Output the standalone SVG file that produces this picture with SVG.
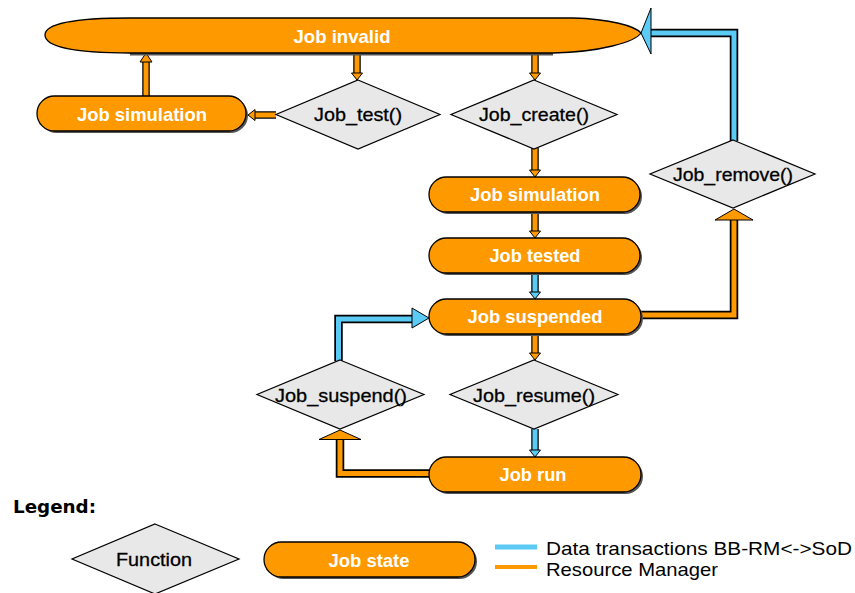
<svg xmlns="http://www.w3.org/2000/svg" width="855" height="593" viewBox="0 0 855 593">
<style>
.st{fill:#FF9900;stroke:#000;stroke-width:1.3}
.sh{fill:#555}
.fn{fill:#E8E8E8;stroke:#000;stroke-width:1.2}
.tw{fill:#fff;font-family:"Liberation Sans",Arial,sans-serif;font-size:19px;font-weight:bold;text-anchor:middle}
.tb{fill:#000;font-family:"Liberation Sans",Arial,sans-serif;font-size:19px;text-anchor:middle;stroke:#000;stroke-width:0.3}
.lo{fill:none;stroke:#000;stroke-width:7.5;stroke-linejoin:miter}
.lo2{fill:none;stroke:#000;stroke-width:8.5;stroke-linejoin:miter}
.io{fill:none;stroke:#FF9900;stroke-width:5;stroke-linejoin:miter}
.ib{fill:none;stroke:#5BCBF5;stroke-width:5;stroke-linejoin:miter}
.ho{fill:#FF9900;stroke:#000;stroke-width:1}
.hb{fill:#5BCBF5;stroke:#000;stroke-width:1}
.lg{fill:#000;font-family:"Liberation Sans",Arial,sans-serif;font-size:19px}
</style>
<rect width="855" height="593" fill="#fff"/>
<g id="connectors">
  <path class="lo" d="M146,96 V62"/><path class="io" d="M146,96 V62"/>
  <polygon class="ho" points="140,62 152,62 146,53"/>
  <path class="lo" d="M357,54 V73"/><path class="io" d="M357,54 V73"/>
  <polygon class="ho" points="351.5,73 362.5,73 357,80"/>
  <path class="lo" d="M535,54 V73"/><path class="io" d="M535,54 V73"/>
  <polygon class="ho" points="529.5,73 540.5,73 535,80"/>
  <path class="lo" d="M276,115 H255"/><path class="io" d="M276,115 H255"/>
  <polygon class="ho" points="255,109.5 255,120.5 248,115"/>
  <path class="lo" d="M535,148 V170"/><path class="io" d="M535,148 V170"/>
  <polygon class="ho" points="529.5,170 540.5,170 535,177"/>
  <path class="lo" d="M535,212 V231"/><path class="io" d="M535,212 V231"/>
  <polygon class="ho" points="529.5,231 540.5,231 535,238"/>
  <path class="lo" d="M535,273 V292"/><path class="ib" d="M535,273 V292"/>
  <polygon class="hb" points="529.5,292 540.5,292 535,299"/>
  <path class="lo" d="M535,334 V353"/><path class="io" d="M535,334 V353"/>
  <polygon class="ho" points="529.5,353 540.5,353 535,360"/>
  <path class="lo" d="M535,429 V450"/><path class="ib" d="M535,429 V450"/>
  <polygon class="hb" points="529.5,450 540.5,450 535,457"/>
  <path class="lo2" d="M430,473.5 H340 V439"/><path class="io" d="M430,473.5 H340 V439"/>
  <polygon class="ho" points="319,439.5 361,439.5 340,430"/>
  <path class="lo2" d="M338.5,361 V319 H413"/><path class="ib" d="M338.5,361 V319 H413"/>
  <polygon class="hb" points="412,308 412,328 429,318"/>
  <path class="lo2" d="M641,315 H734 V220"/><path class="io" d="M641,315 H734 V220"/>
  <polygon class="ho" points="715,220 753,220 734,209"/>
  <path class="lo2" d="M734,141 V33 H651"/><path class="ib" d="M734,141 V33 H651"/>
  <polygon class="hb" points="651,8 651,54 641,33"/>
</g>
<g id="job_invalid">
  <path class="sh" d="M130,53 L553,53 L553,55.5 L130,55.5 Z"/>
  <path class="st" d="M45,35 C45,22 80,18 130,18 L573,18 C610,19 635,26 641,33 C635,42 600,52 553,53 L130,53 C80,53 45,48 45,35 Z"/>
  <text class="tw" x="342" y="43" textLength="97" lengthAdjust="spacingAndGlyphs">Job invalid</text>
</g>
<g id="job_simulation_left">
  <rect class="sh" x="39" y="98" width="209" height="35" rx="17.5"/>
  <rect class="st" x="37" y="96" width="209" height="35" rx="17.5"/>
  <text class="tw" x="142" y="120.5" textLength="130" lengthAdjust="spacingAndGlyphs">Job simulation</text>
</g>
<g id="job_test">
  <polygon class="fn" points="358,80 440,114.5 358,149 276,114.5"/>
  <text class="tb" x="358" y="121" textLength="88" lengthAdjust="spacingAndGlyphs">Job_test()</text>
</g>
<g id="job_create">
  <polygon class="fn" points="534,80 617,114.5 534,149 451,114.5"/>
  <text class="tb" x="534" y="121" textLength="110" lengthAdjust="spacingAndGlyphs">Job_create()</text>
</g>
<g id="job_remove">
  <polygon class="fn" points="733,140 815,174 733,208 650,174"/>
  <text class="tb" x="733" y="180.5" textLength="120" lengthAdjust="spacingAndGlyphs">Job_remove()</text>
</g>
<g id="job_simulation">
  <rect class="sh" x="431" y="179" width="211" height="35" rx="17.5"/>
  <rect class="st" x="429" y="177" width="211" height="35" rx="17.5"/>
  <text class="tw" x="535" y="201" textLength="130" lengthAdjust="spacingAndGlyphs">Job simulation</text>
</g>
<g id="job_tested">
  <rect class="sh" x="431" y="240" width="211" height="35" rx="17.5"/>
  <rect class="st" x="429" y="238" width="211" height="35" rx="17.5"/>
  <text class="tw" x="535" y="262" textLength="91" lengthAdjust="spacingAndGlyphs">Job tested</text>
</g>
<g id="job_suspended">
  <rect class="sh" x="431" y="301" width="212" height="35" rx="17.5"/>
  <rect class="st" x="429" y="299" width="212" height="35" rx="17.5"/>
  <text class="tw" x="535" y="323" textLength="135" lengthAdjust="spacingAndGlyphs">Job suspended</text>
</g>
<g id="job_suspend">
  <polygon class="fn" points="340,360 424,394.5 340,429 257,394.5"/>
  <text class="tb" x="341" y="401.5" textLength="132" lengthAdjust="spacingAndGlyphs">Job_suspend()</text>
</g>
<g id="job_resume">
  <polygon class="fn" points="534,360 618,394.5 534,429 450,394.5"/>
  <text class="tb" x="534" y="401.5" textLength="122" lengthAdjust="spacingAndGlyphs">Job_resume()</text>
</g>
<g id="job_run">
  <rect class="sh" x="431" y="459" width="212" height="35" rx="17.5"/>
  <rect class="st" x="429" y="457" width="212" height="35" rx="17.5"/>
  <text class="tw" x="533" y="481" textLength="67" lengthAdjust="spacingAndGlyphs">Job run</text>
</g>
<g id="legend">
  <text x="13" y="513" font-family="'DejaVu Sans',Verdana,sans-serif" font-size="18" font-weight="bold" textLength="83" lengthAdjust="spacingAndGlyphs">Legend:</text>
  <g id="legend_function">
    <polygon class="fn" points="155,524 239,559 155,594 72,559"/>
    <text class="tb" x="154" y="565.5" textLength="76" lengthAdjust="spacingAndGlyphs">Function</text>
  </g>
  <g id="legend_state">
    <rect class="sh" x="266" y="544" width="211" height="35" rx="17.5"/>
    <rect class="st" x="264" y="542" width="211" height="35" rx="17.5"/>
    <text class="tw" x="369" y="566.5" textLength="81" lengthAdjust="spacingAndGlyphs">Job state</text>
  </g>
  <line x1="495" y1="547" x2="537" y2="547" stroke="#5BCBF5" stroke-width="5"/>
  <line x1="495" y1="567" x2="537" y2="567" stroke="#FF9900" stroke-width="4"/>
  <text class="lg" x="546" y="554.5" textLength="306" lengthAdjust="spacingAndGlyphs">Data transactions BB-RM&lt;-&gt;SoD</text>
  <text class="lg" x="546" y="575.5" textLength="172" lengthAdjust="spacingAndGlyphs">Resource Manager</text>
</g>
</svg>
